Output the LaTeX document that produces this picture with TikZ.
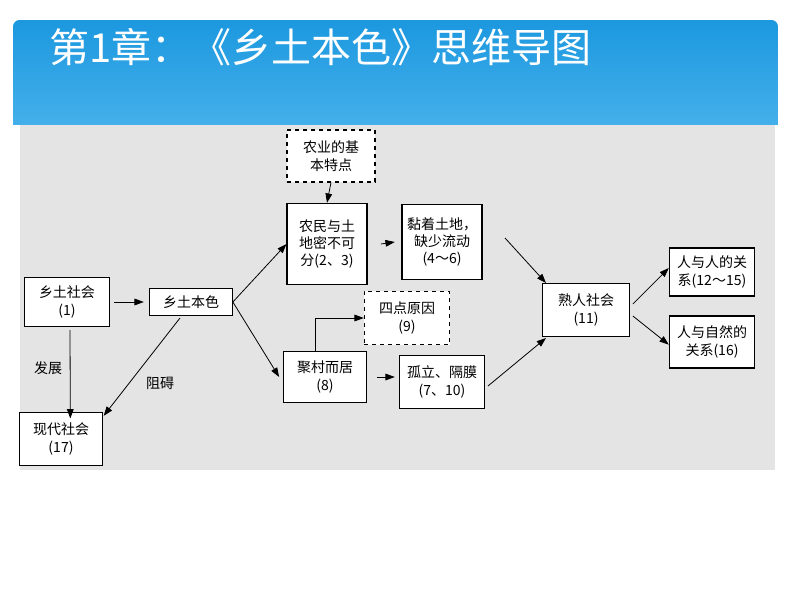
\documentclass[tikz,border=0pt]{standalone}
\usepackage{fontspec}
\setmainfont{Noto Sans CJK SC}
\usetikzlibrary{arrows.meta}
\definecolor{bartop}{HTML}{1C98DF}
\definecolor{barbot}{HTML}{4AB3EC}
\definecolor{paper}{HTML}{E4E4E4}
\begin{document}
\begin{tikzpicture}[x=0.75pt,y=-0.75pt,
  box/.style={draw=black,fill=white,line width=0.8pt,align=center,inner sep=0pt,font=\fontsize{10.5}{13}\selectfont},
  dbox/.style={box,dashed},
  arr/.style={-{Triangle[length=7pt,width=5pt]},line width=0.6pt},
  lab/.style={font=\fontsize{10.5}{13}\selectfont}]
\useasboundingbox (0,0) rectangle (794,596);
\fill[white] (0,0) rectangle (794,596);
\shade[top color=bartop,bottom color=barbot,rounded corners=5pt] (13,20) rectangle (778,140);
\fill[white] (0,125) rectangle (794,140);
\fill[paper] (20,125) rectangle (775,470);
\node[anchor=west,text=white,font=\fontsize{30}{32}\selectfont] (title) at (45,47) {第1章：《乡土本色》思维导图};
\node[dbox,minimum width=66pt,minimum height=39pt] (ny) at (331,156) {农业的基\\本特点};
\node[box,minimum width=60pt,minimum height=61pt] (nm) at (327,244) {农民与土\\地密不可\\分(2、3)};
\node[box,minimum width=60pt,minimum height=56pt] (nz) at (442,242) {黏着土地，\\缺少流动\\(4～6)};
\node[box,minimum width=64pt,minimum height=37pt] (xs) at (67,302) {乡土社会\\(1)};
\node[box,minimum width=62pt,minimum height=20pt] (xb) at (191,302) {乡土本色};
\node[dbox,minimum width=64pt,minimum height=40pt] (sd) at (407,318) {四点原因\\(9)};
\node[box,minimum width=62pt,minimum height=38pt] (jc) at (325,377) {聚村而居\\(8)};
\node[box,minimum width=64pt,minimum height=40pt] (gl) at (442,382) {孤立、隔膜\\(7、10)};
\node[box,minimum width=65pt,minimum height=40pt] (sr) at (586,310) {熟人社会\\(11)};
\node[box,minimum width=64pt,minimum height=36pt] (rr) at (712,272) {人与人的关\\系(12～15)};
\node[box,minimum width=64pt,minimum height=39pt] (rz) at (712,342) {人与自然的\\关系(16)};
\node[box,minimum width=62pt,minimum height=40pt] (xd) at (61,439) {现代社会\\(17)};
\node[lab] (fz) at (48,368) {发展};
\node[lab] (za) at (160,383) {阻碍};
\draw[arr] (xs.east) ++(4,0) -- ([xshift=-4]xb.west);
\draw[arr] (70,330) -- ([xshift=7,yshift=-5]xd.north);
\draw[arr] (180,318) -- ([xshift=32,yshift=-3]xd.north);
\draw[arr] (xb.east) -- (nm.west);
\draw[arr] (xb.east) -- ([xshift=-3]jc.west);
\draw[arr] (ny.south) -- (nm.north);
\draw[arr] ([xshift=10]nm.east) -- ([xshift=-5]nz.east -| nz.west);
\draw[arr] (505,238) -- (546,283);
\draw[arr] (488,386) -- (546,338);
\draw[arr] (315,352) |- (sd.west);
\draw[arr] (jc.east) ++(10,0) -- ([xshift=-3]gl.west |- jc.east);
\draw[arr] (sr.east) ++(3,-6) -- ([yshift=3]rr.west);
\draw[arr] (sr.east) ++(3,6) -- ([yshift=-2]rz.west);
\end{tikzpicture}
\end{document}
